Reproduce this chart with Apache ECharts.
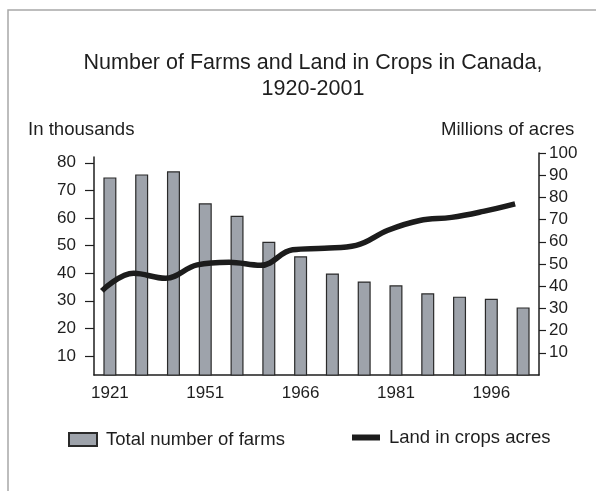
<!DOCTYPE html>
<html><head><meta charset="utf-8">
<script src="https://cdn.jsdelivr.net/npm/echarts@6/dist/echarts.min.js"></script>
<style>html,body{margin:0;padding:0;background:#fff}#c{width:596px;height:491px}</style>
</head><body><div id="c"></div>
<script>
const years = ['1921','1931','1941','1951','1956','1961','1966','1971','1976','1981','1986','1991','1996','2001'];
const farms = [74.7,75.8,76.9,65.3,60.8,51.4,46.1,39.9,37.0,35.6,32.7,31.5,30.7,27.6];
const cropland = [37.9,45.8,43.6,49.6,50.8,49.4,56.4,57.1,58.4,65.2,69.6,71.0,73.7,77.1];
const leftTicks = [10,20,30,40,50,60,70,80];
const rightTicks = [10,20,30,40,50,60,70,80,90,100];

const FONT = "'Liberation Sans', Arial, sans-serif";
const INK = '#1e1e1e';
const chart = echarts.init(document.getElementById('c'), null, {renderer:'canvas'});
chart.setOption({
  animation: false,
  backgroundColor: '#fff',
  textStyle: {fontFamily: FONT, color: INK},
  graphic: [{type:'rect', shape:{x:8, y:10, width:700, height:600}, style:{fill:'none', stroke:'#a8a8a8', lineWidth:1.5}, silent:true}],
  title: [
    {text:'Number of Farms and Land in Crops in Canada,\n1920-2001', left:313, top:50, padding:0, textAlign:'center',
     textStyle:{fontFamily:FONT, fontSize:21.5, fontWeight:'normal', color:INK, lineHeight:26}},
    {text:'In thousands', left:28, top:120, padding:0, textStyle:{fontFamily:FONT, fontSize:18.6, fontWeight:'normal', color:INK}},
    {text:'Millions of acres', left:441, top:120, padding:0, textStyle:{fontFamily:FONT, fontSize:18.6, fontWeight:'normal', color:INK}}
  ],
  legend: [
    {data:['Total number of farms'], left:68, top:430, padding:0, itemWidth:28, itemHeight:13, icon:'rect',
     textStyle:{fontFamily:FONT, fontSize:18.5, color:INK, padding:[0,0,0,4]}},
    {data:['Land in crops acres'], left:352, top:428, padding:0, itemWidth:28, itemHeight:6, icon:'rect',
     textStyle:{fontFamily:FONT, fontSize:18.5, color:INK, padding:[0,0,0,4]}}
  ],
  grid: [
    {left:94, right:57, top:153, bottom:116},
    {left:94, right:57, top:157, bottom:116},
    {left:86, right:65, top:153, bottom:116}
  ],
  xAxis: [
    {gridIndex:0, type:'category', data:years, boundaryGap:true,
     axisLine:{lineStyle:{color:INK, width:1.5}},
     axisTick:{interval:0, length:8, lineStyle:{color:INK, width:1.2}},
     axisLabel:{interval:2, margin:10, fontSize:17, color:INK, fontFamily:FONT},
     splitLine:{show:false}},
    {gridIndex:1, type:'category', data:years, show:false},
    {gridIndex:2, type:'category', data:years, show:false}
  ],
  yAxis: [
    {gridIndex:0, type:'value', position:'right', min:0, max:100, interval:10,
     axisLine:{show:true, lineStyle:{color:INK, width:1.5}},
     axisTick:{show:true, length:7, lineStyle:{color:INK, width:1.2}, customValues:rightTicks},
     axisLabel:{margin:10, fontSize:17, color:INK, fontFamily:FONT, customValues:rightTicks},
     splitLine:{show:false}},
    {gridIndex:1, type:'value', position:'left', min:3.1, max:82.1,
     axisLine:{show:true, lineStyle:{color:INK, width:1.5}},
     axisTick:{show:true, length:9, lineStyle:{color:INK, width:1.2}, customValues:leftTicks},
     axisLabel:{margin:18, fontSize:17, color:INK, fontFamily:FONT, customValues:leftTicks},
     splitLine:{show:false}},
    {gridIndex:2, type:'value', min:0, max:100, show:false}
  ],
  series: [
    {name:'Total number of farms', type:'bar', xAxisIndex:1, yAxisIndex:1, data:farms, barWidth:13,
     itemStyle:{color:'#9ea3ab', borderColor:'#2a2a2a', borderWidth:1.2}, z:2},
    {name:'Land in crops acres', type:'line', xAxisIndex:2, yAxisIndex:2, data:cropland, smooth:0.4,
     symbol:'none', color:'#1c1c1c', lineStyle:{color:'#1c1c1c', width:5.5}, z:3}
  ]
});
</script></body></html>
